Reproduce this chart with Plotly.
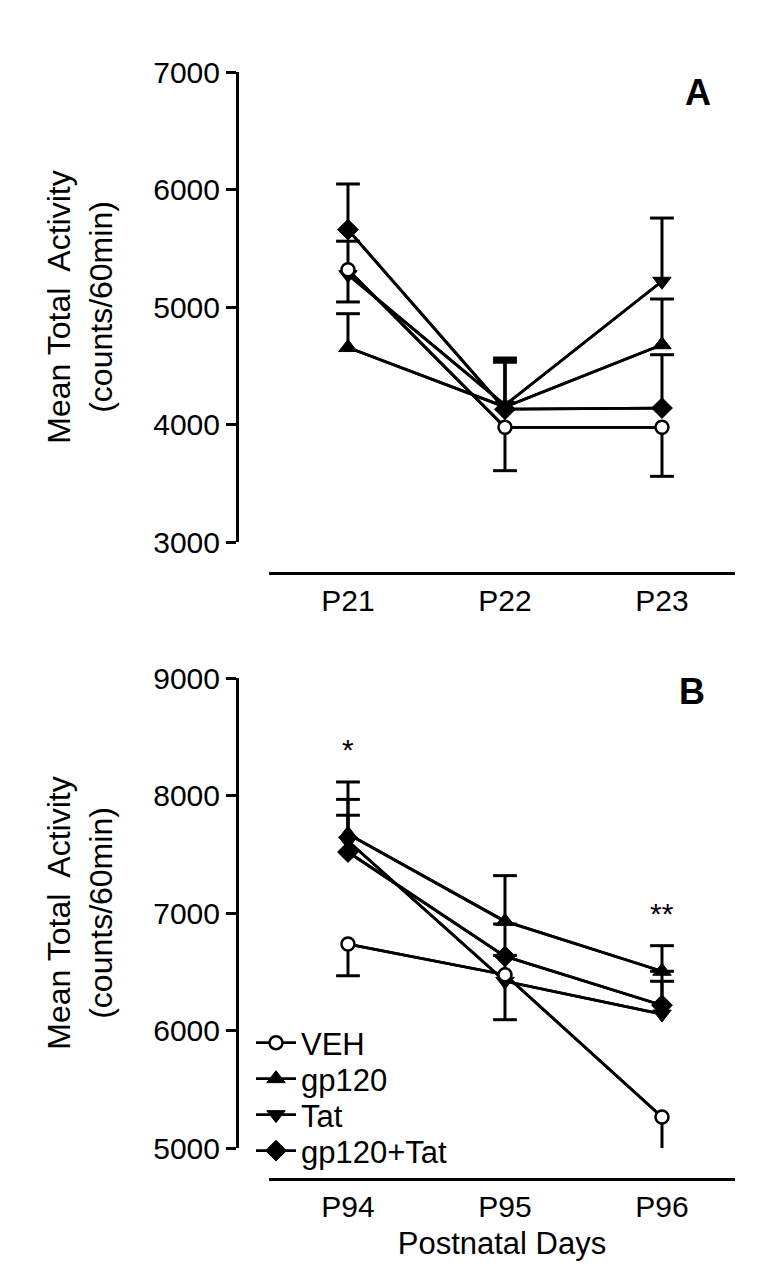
import plotly.graph_objects as go

# ---------------- data ----------------
days_a = ["P21", "P22", "P23"]
days_b = ["P94", "P95", "P96"]
groups = ["VEH", "gp120", "Tat", "gp120+Tat"]

# Panel A (means, SEM)
veh_a = [5317, 3976, 3976]
gp120_a = [4655, 4150, 4679]
tat_a = [5275, 4165, 5219]
combo_a = [5658, 4130, 4140]
veh_a_sem = [274, 369, 417]
gp120_a_sem = [288, 395, 389]
tat_a_sem = [285, 401, 538]
combo_a_sem = [389, 400, 454]

# Panel B (means, SEM)
veh_b = [6736, 6475, 5264]
gp120_b = [7672, 6929, 6504]
tat_b = [7613, 6419, 6140]
combo_b = [7519, 6631, 6215]
veh_b_sem = [270, 383, 287]
gp120_b_sem = [443, 389, 218]
tat_b_sem = [354, 220, 279]
combo_b_sem = [313, 275, 289]

# error bar direction per group (VEH drawn downward, others upward)
err_dir = [-1, 1, 1, 1]

# significance marks in panel B
sig_text = ["*", "", "**"]
sig_y = [8390, 0, 7000]

yticks_a = [3000, 4000, 5000, 6000, 7000]
yticks_b = [5000, 6000, 7000, 8000, 9000]

# ---------------- styling ----------------
W, H = 780, 1278
FONT = "Liberation Sans, Arial, sans-serif"
BLACK = "#000000"
symbols = ["circle", "triangle-up", "triangle-down", "diamond"]
msizes = [13, 16, 16, 16]
mfill = ["white", BLACK, BLACK, BLACK]
mline = [2.5, 1, 1, 1]
legend_ids = ["legend", "legend2", "legend3", "legend4"]
legend_rows_px = [1035, 1071, 1107, 1143]


def px_x(px):
    return px / W


def px_y(py):
    return 1 - py / H


fig = go.Figure()

panels = [
    ("x", "y", days_a, [veh_a, gp120_a, tat_a, combo_a],
     [veh_a_sem, gp120_a_sem, tat_a_sem, combo_a_sem], False),
    ("x2", "y2", days_b, [veh_b, gp120_b, tat_b, combo_b],
     [veh_b_sem, gp120_b_sem, tat_b_sem, combo_b_sem], True),
]

for xa, ya, days, means, sems, legend in panels:
    # connecting lines (underneath everything)
    for g in range(4):
        fig.add_trace(go.Scatter(
            x=days, y=means[g], mode="lines", xaxis=xa, yaxis=ya,
            line=dict(color=BLACK, width=2.8), showlegend=False,
            hoverinfo="skip"))
    # one-sided error bars: stems and caps
    for g in range(4):
        ends = [m + err_dir[g] * s for m, s in zip(means[g], sems[g])]
        sx, sy = [], []
        for d, m, e in zip(days, means[g], ends):
            sx += [d, d, None]
            sy += [m, e, None]
        fig.add_trace(go.Scatter(
            x=sx, y=sy, mode="lines", xaxis=xa, yaxis=ya,
            line=dict(color=BLACK, width=3), showlegend=False,
            hoverinfo="skip"))
        fig.add_trace(go.Scatter(
            x=days, y=ends, mode="markers", xaxis=xa, yaxis=ya,
            marker=dict(symbol="line-ew", size=17,
                        line=dict(color=BLACK, width=3)),
            showlegend=False, hoverinfo="skip"))
    # markers (with line for legend glyph)
    for g in [3, 2, 1, 0]:
        fig.add_trace(go.Scatter(
            x=days, y=means[g], mode="lines+markers", xaxis=xa, yaxis=ya,
            name=groups[g], legend=legend_ids[g],
            line=dict(color=BLACK, width=2.8),
            marker=dict(symbol=symbols[g], size=msizes[g], color=mfill[g],
                        line=dict(color=BLACK, width=mline[g])),
            showlegend=legend))

# significance annotations
for d, t, yv in zip(days_b, sig_text, sig_y):
    if t:
        fig.add_annotation(x=d, y=yv, xref="x2", yref="y2", text=t,
                           showarrow=False, xanchor="center", yanchor="middle",
                           font=dict(family=FONT, size=30, color=BLACK))

# panel letters
fig.add_annotation(x=px_x(690), y=px_y(84), xref="paper", yref="paper",
                   text="<b>A</b>", showarrow=False, xanchor="center",
                   yanchor="middle",
                   font=dict(family=FONT, size=36, color=BLACK))
fig.add_annotation(x=px_x(684), y=px_y(684), xref="paper", yref="paper",
                   text="<b>B</b>", showarrow=False, xanchor="center",
                   yanchor="middle",
                   font=dict(family=FONT, size=36, color=BLACK))

ytitle = "Mean Total\u00a0 Activity<br>(counts/60min)"
common_y = dict(showline=True, linewidth=3, linecolor=BLACK, ticks="outside",
                ticklen=10, tickwidth=3, tickcolor=BLACK, showgrid=False,
                zeroline=False, anchor="free", position=px_x(229),
                automargin=False,
                tickfont=dict(family=FONT, size=30, color=BLACK),
                title=dict(text=ytitle, standoff=30,
                           font=dict(family=FONT, size=32, color=BLACK)))
common_x = dict(showline=True, linewidth=3, linecolor=BLACK, ticks="",
                showgrid=False, zeroline=False, anchor="free",
                automargin=False,
                domain=[px_x(261), px_x(727)], range=[-0.503, 2.465],
                type="category",
                tickfont=dict(family=FONT, size=30, color=BLACK))

legend_style = dict(x=px_x(243), xanchor="left", yanchor="middle",
                    bgcolor="rgba(0,0,0,0)", borderwidth=0, itemwidth=40,
                    font=dict(family=FONT, size=31, color=BLACK))

fig.update_layout(
    template="none",
    width=W, height=H,
    margin=dict(l=0, r=0, t=0, b=0, autoexpand=False),
    paper_bgcolor="white", plot_bgcolor="white",
    font=dict(family=FONT, color=BLACK),
    xaxis=dict(**common_x, position=px_y(565)),
    yaxis=dict(**common_y, domain=[px_y(534), px_y(64)], range=[3000, 7000],
               tickvals=yticks_a),
    xaxis2=dict(**common_x, position=px_y(1171),
                title=dict(text="Postnatal Days", standoff=10,
                           font=dict(family=FONT, size=31, color=BLACK))),
    yaxis2=dict(**common_y, domain=[px_y(1140), px_y(670)], range=[5000, 9000],
                tickvals=yticks_b),
    showlegend=True,
)
for lid, row in zip(legend_ids, legend_rows_px):
    fig.update_layout({lid: dict(legend_style, y=px_y(row))})

fig.write_html("out.html")
